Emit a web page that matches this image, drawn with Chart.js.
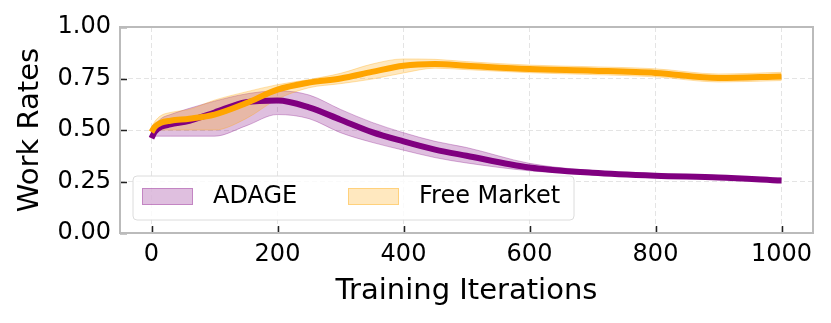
<!DOCTYPE html>
<html lang="en">
<head>
    <meta charset="UTF-8">
    <title>Work Rates</title>
    <script src="https://cdn.jsdelivr.net/npm/chart.js"></script>
    <style>
        body { margin: 0; background: #fff; }
        #wrap { width: 831px; height: 323px; position: relative; }
    </style>
</head>
<body>

<div id="wrap">
    <canvas id="workChart"></canvas>
</div>

<script>
    // values
    const iterations = [0, 5, 15, 30, 60, 100, 150, 200, 250, 300, 350, 400, 450, 500, 600, 700, 800, 900, 1000];

    const adageMean  = [0.46, 0.49, 0.515, 0.527, 0.545, 0.585, 0.635, 0.643, 0.61, 0.55, 0.49, 0.445, 0.405, 0.375, 0.318, 0.292, 0.278, 0.27, 0.255];
    const adageUpper = [0.49, 0.52, 0.555, 0.575, 0.605, 0.64, 0.675, 0.69, 0.67, 0.60, 0.537, 0.487, 0.445, 0.415, 0.338, 0.303, 0.288, 0.279, 0.267];
    const adageLower = [0.46, 0.47, 0.47, 0.47, 0.47, 0.47, 0.52, 0.575, 0.555, 0.487, 0.44, 0.402, 0.366, 0.34, 0.302, 0.283, 0.27, 0.262, 0.246];

    const marketMean  = [0.49, 0.515, 0.535, 0.545, 0.555, 0.575, 0.63, 0.696, 0.73, 0.75, 0.782, 0.812, 0.82, 0.812, 0.796, 0.788, 0.777, 0.752, 0.76];
    const marketUpper = [0.51, 0.54, 0.57, 0.585, 0.60, 0.645, 0.685, 0.72, 0.745, 0.775, 0.82, 0.845, 0.843, 0.832, 0.815, 0.807, 0.797, 0.772, 0.78];
    const marketLower = [0.48, 0.49, 0.50, 0.50, 0.50, 0.50, 0.555, 0.65, 0.705, 0.725, 0.747, 0.777, 0.80, 0.793, 0.778, 0.769, 0.758, 0.733, 0.74];

    const xTicks = [0, 200, 400, 600, 800, 1000];
    const yTicks = [0, 0.25, 0.5, 0.75, 1.0];
    const seriesNames = ['ADAGE', 'Free Market'];

    const PURPLE = '#800080';
    const ORANGE = '#FFA500';
    const PURPLE_FILL = 'rgba(128, 0, 128, 0.25)';
    const ORANGE_FILL = 'rgba(255, 165, 0, 0.25)';
    const FONT = "'DejaVu Sans', sans-serif";

    function pts(ys) {
        return iterations.map((x, i) => ({ x: x, y: ys[i] }));
    }

    function band(ys, fillTo, fillColor, edgeColor) {
        return {
            data: pts(ys),
            borderColor: edgeColor,
            borderWidth: 1,
            backgroundColor: fillColor,
            fill: fillTo === null ? false : { target: fillTo },
            pointRadius: 0,
            cubicInterpolationMode: 'monotone'
        };
    }

    function meanLine(ys, color) {
        return {
            data: pts(ys),
            borderColor: color,
            borderWidth: 6,
            fill: false,
            pointRadius: 0,
            cubicInterpolationMode: 'monotone'
        };
    }

    // frame, inward ticks and legend box like the matplotlib original
    const decorations = {
        id: 'decorations',
        afterDatasetsDraw(chart) {
            const ctx = chart.ctx;
            const a = chart.chartArea;
            const xs = chart.scales.x, ys = chart.scales.y;
            ctx.save();

            ctx.strokeStyle = '#222';
            ctx.lineWidth = 1.5;
            ctx.beginPath();
            xTicks.forEach(v => {
                const p = Math.round(xs.getPixelForValue(v)) + 0.5;
                ctx.moveTo(p, a.bottom);
                ctx.lineTo(p, a.bottom - 7);
            });
            yTicks.forEach(v => {
                const p = Math.round(ys.getPixelForValue(v)) + 0.5;
                ctx.moveTo(a.left, p);
                ctx.lineTo(a.left + 7, p);
            });
            ctx.stroke();

            ctx.strokeStyle = '#bbbbbb';
            ctx.lineWidth = 2;
            ctx.strokeRect(a.left, a.top, a.right - a.left, a.bottom - a.top);

            // legend
            const lx = a.left + 13, ly = a.bottom - 57, lw = 441, lh = 44;
            ctx.beginPath();
            ctx.roundRect(lx, ly, lw, lh, 4);
            ctx.fillStyle = 'rgba(255,255,255,0.8)';
            ctx.fill();
            ctx.strokeStyle = '#dcdcdc';
            ctx.lineWidth = 1;
            ctx.stroke();

            const swatches = [
                { x: lx + 9, fill: PURPLE_FILL, edge: 'rgba(128,0,128,0.3)', tx: lx + 80 },
                { x: lx + 215, fill: ORANGE_FILL, edge: 'rgba(255,165,0,0.35)', tx: lx + 286 }
            ];
            ctx.font = '24px ' + FONT;
            ctx.textBaseline = 'middle';
            ctx.textAlign = 'left';
            swatches.forEach((s, i) => {
                ctx.fillStyle = s.fill;
                ctx.fillRect(s.x, ly + 12, 51, 17);
                ctx.strokeStyle = s.edge;
                ctx.strokeRect(s.x + 0.5, ly + 12.5, 50, 16);
                ctx.fillStyle = '#000';
                ctx.fillText(seriesNames[i], s.tx, ly + 21);
            });
            ctx.restore();
        }
    };

    new Chart(document.getElementById('workChart'), {
        type: 'line',
        data: {
            datasets: [
                meanLine(marketMean, ORANGE),
                meanLine(adageMean, PURPLE),
                band(marketUpper, 3, ORANGE_FILL, 'rgba(255,165,0,0.3)'),
                band(marketLower, null, ORANGE_FILL, 'rgba(255,165,0,0.3)'),
                band(adageUpper, 5, PURPLE_FILL, 'rgba(128,0,128,0.3)'),
                band(adageLower, null, PURPLE_FILL, 'rgba(128,0,128,0.3)')
            ]
        },
        options: {
            responsive: true,
            maintainAspectRatio: false,
            animation: false,
            layout: { padding: { top: 27, right: 18, left: 0, bottom: 0 } },
            plugins: {
                legend: { display: false },
                tooltip: { enabled: false },
                filler: { drawTime: 'beforeDatasetDraw' }
            },
            scales: {
                x: {
                    type: 'linear',
                    min: -50,
                    max: 1050,
                    afterBuildTicks: s => { s.ticks = xTicks.map(v => ({ value: v })); },
                    afterFit: s => { s.height = 90; },
                    grid: { color: '#e4e4e4', drawTicks: false },
                    border: { display: false, dash: [5, 3] },
                    ticks: {
                        color: '#000',
                        font: { family: FONT, size: 24 },
                        padding: 7,
                        maxRotation: 0,
                        callback: v => String(v)
                    },
                    title: {
                        display: true,
                        text: 'Training Iterations',
                        color: '#000',
                        font: { family: FONT, size: 29 },
                        padding: { top: 0, bottom: 14 }
                    }
                },
                y: {
                    min: 0,
                    max: 1,
                    afterBuildTicks: s => { s.ticks = yTicks.map(v => ({ value: v })); },
                    afterFit: s => { s.width = 120; },
                    grid: { color: '#e4e4e4', drawTicks: false },
                    border: { display: false, dash: [5, 3] },
                    ticks: {
                        color: '#000',
                        font: { family: FONT, size: 24 },
                        padding: 9,
                        callback: v => v.toFixed(2)
                    },
                    title: {
                        display: true,
                        text: 'Work Rates',
                        color: '#000',
                        font: { family: FONT, size: 29 },
                        padding: { top: 13, bottom: 0 }
                    }
                }
            }
        },
        plugins: [decorations]
    });
</script>

</body>
</html>
